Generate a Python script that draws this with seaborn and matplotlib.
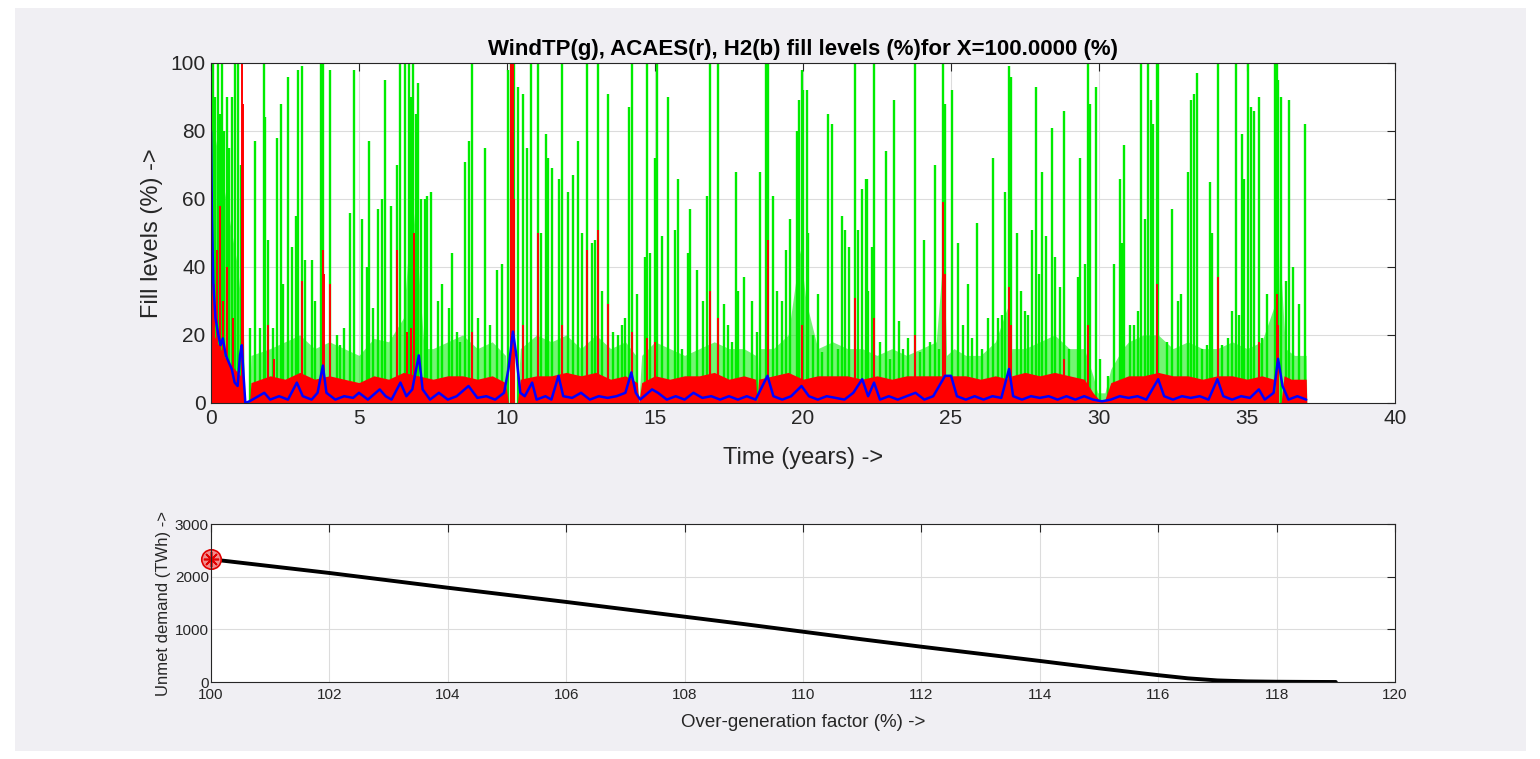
import numpy as np
import pandas as pd
import matplotlib
matplotlib.use("Agg")
import matplotlib.pyplot as plt
import seaborn as sns

# ---------------- data ----------------
# Green (WindTP) spike peaks: time (years), fill level (%)
green_spike_t = [0.02, 0.08, 0.14, 0.25, 0.30, 0.36, 0.45, 0.53, 0.62, 0.70, 0.81, 0.92, 1.00,
                 1.32, 1.49, 1.66, 1.80, 1.84, 1.94, 2.11, 2.22, 2.37, 2.44, 2.61, 2.75, 2.86, 2.95,
                 3.09, 3.18, 3.40, 3.51, 3.72, 3.79, 4.02, 4.25, 4.36, 4.50, 4.70, 4.84, 5.09, 5.26,
                 5.35, 5.48, 5.63, 5.77, 5.88, 6.07, 6.27, 6.39, 6.55, 6.69, 6.76, 6.84, 6.91, 6.98,
                 7.10, 7.23,
                 7.29, 7.43, 7.66, 7.82, 8.04, 8.15, 8.30, 8.41, 8.58, 8.73, 8.81, 9.03, 9.26, 9.43,
                 9.65, 9.84, 10.02, 10.14, 10.25, 10.36, 10.55, 10.67, 10.81, 11.04, 11.15, 11.32,
                 11.40, 11.51, 11.74, 11.85, 12.05, 12.24, 12.41, 12.52, 12.69, 12.86, 12.97, 13.09,
                 13.20, 13.40, 13.59, 13.74, 13.88, 13.99, 14.12, 14.23, 14.38, 14.66,
                 14.72, 14.83, 15.00, 15.06, 15.25, 15.45, 15.68, 15.79, 15.92, 16.11, 16.18, 16.41,
                 16.63, 16.75, 16.86, 17.14, 17.34, 17.48, 17.61, 17.73, 17.82, 18.02, 18.29, 18.43,
                 18.55, 18.74, 18.83, 19.00, 19.11, 19.30, 19.41, 19.56, 19.79, 19.88, 19.95, 20.01,
                 20.12, 20.18, 20.35, 20.49, 20.63, 20.83, 20.97, 21.17, 21.31, 21.42, 21.55, 21.74,
                 21.87, 21.98, 22.12,
                 22.15, 22.21, 22.34, 22.41, 22.60, 22.79, 22.94, 23.09, 23.24, 23.39, 23.54, 23.78,
                 23.95, 24.10, 24.29, 24.46, 24.59, 24.74, 24.80, 25.02, 25.25, 25.42, 25.56, 25.72,
                 25.87, 26.04, 26.24, 26.43, 26.60, 26.71, 26.82, 26.96, 27.02, 27.22, 27.37, 27.50,
                 27.61, 27.73, 27.86, 27.97, 28.09, 28.20, 28.40, 28.53, 28.68, 28.83, 28.99, 29.14,
                 29.28, 29.36, 29.53,
                 29.64, 29.70, 29.89, 30.03, 30.32, 30.49, 30.71, 30.79, 30.86, 31.05, 31.19, 31.33,
                 31.41, 31.55, 31.67, 31.76, 31.83, 31.95, 32.00, 32.29, 32.48, 32.66, 32.77, 33.00,
                 33.11, 33.20, 33.30, 33.47, 33.64, 33.75, 33.83, 34.01, 34.14, 34.35, 34.48, 34.62,
                 34.73, 34.82, 34.91, 35.02, 35.14, 35.25, 35.39, 35.50, 35.66, 35.93, 36.00, 36.06,
                 36.15, 36.32, 36.42, 36.57, 36.74, 36.96]
green_spike_v = [95, 100, 90, 100, 85, 100, 80, 90, 75, 90, 100, 100, 70,
                 22, 77, 22, 100, 84, 48, 22, 78, 88, 35, 96, 46, 55, 98,
                 99, 42, 42, 30, 100, 100, 98, 20, 17, 22, 56, 98, 54, 40,
                 77, 28, 57, 60, 95, 58, 70, 100, 100, 100, 90, 100, 85, 94,
                 60, 60,
                 61, 62, 30, 35, 28, 44, 21, 18, 71, 77, 100, 25, 75, 23,
                 39, 41, 98, 100, 100, 93, 91, 75, 100, 100, 50, 79,
                 72, 69, 66, 100, 62, 67, 77, 50, 100, 47, 48, 100,
                 33, 91, 21, 20, 23, 25, 87, 100, 32, 43,
                 100, 44, 72, 100, 49, 90, 51, 66, 16, 44, 57, 39,
                 30, 61, 100, 100, 29, 23, 18, 68, 33, 37, 30, 21,
                 68, 100, 100, 61, 33, 30, 45, 54, 80, 89, 98, 92,
                 92, 50, 20, 32, 15, 85, 82, 16, 55, 51, 46, 100,
                 51, 63, 66,
                 66, 33, 46, 100, 18, 74, 13, 89, 24, 16, 19, 100,
                 15, 48, 18, 70, 16, 100, 88, 92, 47, 23, 35, 19,
                 53, 16, 25, 72, 25, 26, 62, 99, 96, 50, 33, 27,
                 26, 51, 93, 38, 68, 49, 81, 43, 34, 86, 16, 7,
                 37, 72, 41,
                 100, 88, 93, 13, 8, 41, 66, 47, 76, 23, 23, 27,
                 100, 54, 100, 89, 82, 100, 100, 18, 57, 30, 32, 68,
                 89, 91, 97, 16, 17, 65, 50, 100, 17, 19, 27, 100,
                 26, 79, 66, 100, 87, 86, 90, 19, 32, 100, 100, 95,
                 90, 36, 89, 40, 29, 82]

# Green dense band (upper edge of the densely filled part)
green_band_t = [0.0, 0.3, 0.6, 0.9, 1.1, 1.15, 1.3, 1.35, 2.0, 2.5, 3.0, 3.5, 4.0, 4.5, 5.0, 5.5,
                6.0, 6.5, 6.8, 7.0, 7.2, 7.5, 8.0, 8.5, 9.0, 9.5, 9.95, 10.05, 10.35, 10.45, 11.0,
                11.5, 12.0, 12.5, 13.0, 13.5, 14.0, 14.35, 14.45, 14.55, 15.0, 15.5, 16.0, 16.5,
                17.0, 17.5, 18.0, 18.4, 18.45, 18.5, 19.0, 19.5, 19.9, 20.1, 20.5, 21.0, 21.5,
                22.0, 22.5, 23.0, 23.5, 24.0, 24.5, 24.75, 24.85, 25.1, 25.5, 26.0, 26.5, 26.9,
                26.98, 27.05, 27.5, 28.0, 28.5, 29.0, 29.5, 29.8, 29.95, 30.2, 30.4, 30.8, 31.0,
                31.5, 32.0, 32.5, 33.0, 33.5, 34.0, 34.5, 35.0, 35.5, 35.9, 36.0, 36.1, 36.3,
                36.6, 37.0, 37.02]
green_band_v = [85, 70, 55, 40, 20, 0, 0, 14, 16, 18, 20, 16, 18, 16, 14, 19,
                18, 25, 60, 40, 16, 16, 18, 20, 16, 18, 14, 0, 0, 16, 20,
                18, 20, 16, 20, 16, 18, 14, 0, 14, 18, 16, 14, 16,
                18, 16, 16, 14, 0, 16, 16, 20, 45, 30, 16, 18, 16,
                16, 14, 16, 14, 16, 18, 45, 14, 16, 14, 14, 18, 28,
                0, 16, 16, 18, 20, 16, 16, 8, 3, 3, 10, 16, 18,
                20, 20, 16, 18, 16, 16, 18, 16, 18, 28, 0, 45, 16,
                14, 14, 0]

# Red (ACAES) spikes and dense band
red_spike_t = [0.03, 0.10, 0.20, 0.30, 0.40, 0.55, 0.75, 1.04, 1.08, 1.94, 2.12, 3.09, 3.79, 3.83,
               4.02, 6.29, 6.62, 6.75, 6.87, 8.81, 10.14, 10.20, 10.25, 10.55, 11.04, 11.85,
               12.69, 13.09, 13.40, 14.23, 14.72, 15.00, 16.86, 17.14, 18.83, 19.95, 21.74,
               22.41, 23.78, 24.74, 24.80, 26.96, 27.02, 28.83, 29.64, 31.95, 34.01, 35.39,
               36.00, 36.06]
red_spike_v = [62, 35, 45, 58, 30, 40, 25, 100, 88, 23, 13, 36, 45, 38,
               35, 45, 21, 22, 50, 21, 100, 100, 60, 23, 50, 23,
               45, 51, 29, 21, 19, 18, 33, 25, 48, 23, 31,
               25, 20, 59, 38, 34, 23, 13, 23, 35, 37, 18,
               32, 23]
red_band_t = [0.0, 0.2, 0.5, 0.8, 1.1, 1.15, 1.3, 1.35, 2.0, 2.5, 3.0, 3.5, 4.0, 4.5, 5.0, 5.5,
              6.0, 6.5, 7.0, 7.5, 8.0, 8.5, 9.0, 9.5, 9.95, 10.05, 10.35, 10.45, 11.0, 11.5,
              12.0, 12.5, 13.0, 13.5, 14.0, 14.4, 14.45, 14.55, 15.0, 15.5, 16.0, 16.5, 17.0,
              17.5, 18.0, 18.4, 18.45, 18.5, 19.0, 19.5, 20.0, 20.5, 21.0, 21.5, 22.0, 22.5,
              23.0, 23.5, 24.0, 24.5, 25.0, 25.5, 26.0, 26.5, 26.95, 26.98, 27.05, 27.5, 28.0,
              28.5, 29.0, 29.5, 29.8, 30.0, 30.2, 30.4, 31.0, 31.5, 32.0, 32.5, 33.0, 33.5,
              34.0, 34.5, 35.0, 35.5, 35.9, 36.0, 36.15, 36.25, 36.5, 37.0, 37.02]
red_band_v = [22, 18, 13, 10, 7, 0, 0, 6, 8, 7, 9, 7, 8, 7, 6, 8,
              7, 9, 8, 7, 8, 8, 7, 8, 6, 0, 0, 7, 8, 8,
              9, 8, 9, 7, 8, 6, 0, 6, 8, 7, 8, 8, 9,
              7, 8, 7, 0, 7, 8, 9, 7, 8, 8, 8, 7, 8,
              7, 8, 8, 8, 8, 8, 7, 8, 7, 0, 8, 9, 8,
              9, 8, 7, 3, 1, 1, 6, 8, 8, 9, 8, 8, 7,
              8, 8, 7, 8, 7, 0, 0, 8, 7, 7, 0]

# Blue (H2) fill level
blue_t = [0.00, 0.03, 0.08, 0.15, 0.25, 0.32, 0.40, 0.50, 0.60, 0.70, 0.80, 0.90, 0.98, 1.04,
          1.10, 1.16, 1.3, 1.5, 1.8, 2.0, 2.3, 2.6, 2.9, 3.1, 3.4, 3.6, 3.78, 3.9, 4.2, 4.5,
          4.8, 5.0, 5.3, 5.7, 5.9, 6.1, 6.4, 6.6, 6.8, 7.02, 7.15, 7.4, 7.7, 8.0, 8.3, 8.7,
          9.0, 9.3, 9.6, 9.9, 10.05, 10.2, 10.3, 10.45, 10.6, 10.85, 11.0, 11.3, 11.5, 11.74,
          11.9, 12.2, 12.5, 12.8, 13.1, 13.4, 13.7, 14.0, 14.2, 14.35, 14.5, 14.9, 15.1, 15.4,
          15.7, 16.0, 16.3, 16.6, 16.9, 17.2, 17.5, 17.8, 18.1, 18.4, 18.8, 19.0, 19.3, 19.6,
          19.95, 20.2, 20.5, 20.8, 21.1, 21.4, 21.7, 22.0, 22.2, 22.4, 22.6, 22.9, 23.2, 23.5,
          23.8, 24.1, 24.4, 24.8, 25.0, 25.2, 25.5, 25.8, 26.1, 26.4, 26.7, 26.96, 27.1, 27.4,
          27.7, 28.0, 28.3, 28.6, 28.9, 29.2, 29.5, 29.8, 30.1, 30.4, 30.7, 31.0, 31.3, 31.6,
          31.8, 32.0, 32.2, 32.5, 32.8, 33.1, 33.4, 33.7, 34.0, 34.2, 34.5, 34.8, 35.1, 35.4,
          35.6, 35.9, 36.05, 36.2, 36.4, 36.7, 37.0]
blue_v = [80, 55, 35, 25, 20, 17, 19, 14, 12, 10, 6, 5, 14, 17,
          8, 0, 0.5, 1.5, 3, 1, 2, 1, 6, 2, 1, 3, 11, 3, 1, 2,
          1.5, 3, 1, 4, 2, 1, 6, 2, 4, 14, 4, 1, 3, 1, 2, 5,
          1.5, 2, 1, 3, 10, 21, 15, 3, 2, 6, 1, 2, 1, 8,
          2, 1.5, 3, 1, 2, 1.5, 2, 3, 9, 3, 1, 4, 3, 1,
          2, 1, 3, 1.5, 2, 1, 2, 1, 2, 1, 8, 2, 1, 2,
          5, 2, 1, 2, 1.5, 1, 3, 7, 2, 6, 1, 2, 1, 2,
          3, 1, 2, 8, 8, 2, 1, 2, 1, 2, 1.5, 10, 2, 1,
          2, 1.5, 2, 1, 2, 1, 2, 1, 0.5, 1, 2, 1.5, 2, 1,
          4, 7, 2, 1, 2, 1.5, 2, 1, 7, 2, 1, 2, 1.5, 4,
          1, 3, 13, 5, 1, 2, 1]

# Bottom panel: unmet demand vs over-generation factor
overgen = [100, 101, 102, 103, 104, 105, 106, 107, 108, 109, 110, 111, 112, 113, 114, 115,
           116, 116.5, 117, 117.5, 118, 118.5, 119]
unmet = [2330, 2200, 2070, 1930, 1790, 1655, 1520, 1380, 1240, 1100, 955, 810, 670, 535, 400,
         260, 130, 70, 30, 12, 5, 2, 0]

top_xticks = [0, 5, 10, 15, 20, 25, 30, 35, 40]
top_yticks = [0, 20, 40, 60, 80, 100]
bot_xticks = [100, 102, 104, 106, 108, 110, 112, 114, 116, 118, 120]
bot_yticks = [0, 1000, 2000, 3000]

# ---------------- styling ----------------
sns.set_theme(style="white")
plt.rcParams['font.family'] = ['Liberation Sans', 'DejaVu Sans']

GREEN = "#00ec00"
RED = "#ff0000"
BLUE = "#0000ff"
TXT = "#262626"
BG = "#f0eff3"

W, H = 1540, 759
fig = plt.figure(figsize=(W / 100, H / 100), dpi=100, facecolor="white")
# grey figure-window area inside a white page margin
fig.patches.append(matplotlib.patches.Rectangle((15 / W, 8 / H), (1526 - 15) / W, (751 - 8) / H,
                                                transform=fig.transFigure, facecolor=BG,
                                                edgecolor="none", zorder=-10))

ax1 = fig.add_axes([211 / W, 1 - 403 / H, (1395 - 211) / W, (403 - 63) / H])
ax2 = fig.add_axes([211 / W, 1 - 682 / H, (1395 - 211) / W, (682 - 524) / H])

# ---- top panel ----
ax1.fill_between(green_band_t, 0, green_band_v, color=GREEN, lw=0, alpha=0.55, zorder=2)
ax1.vlines(green_spike_t, 0, green_spike_v, color=GREEN, lw=1.7, zorder=2)
ax1.fill_between(red_band_t, 0, red_band_v, color=RED, lw=0, zorder=3)
ax1.vlines(red_spike_t, 0, red_spike_v, color=RED, lw=1.4, zorder=3)
blue_df = pd.DataFrame({"t": blue_t, "v": blue_v})
sns.lineplot(data=blue_df, x="t", y="v", color=BLUE, lw=1.8, ax=ax1, zorder=5)

ax1.set_xlim(0, 40)
ax1.set_ylim(0, 100)
ax1.set_xticks(top_xticks)
ax1.set_yticks(top_yticks)
ax1.set_title("WindTP(g), ACAES(r), H2(b) fill levels (%)for X=100.0000 (%)",
              fontsize=16, fontweight="bold", color="black", pad=6)
ax1.set_xlabel("Time (years) ->", fontsize=17, color=TXT, labelpad=14)
ax1.set_ylabel("Fill levels (%) ->", fontsize=17, color=TXT, labelpad=5)

# ---- bottom panel ----
bot_df = pd.DataFrame({"x": overgen, "y": unmet})
sns.lineplot(data=bot_df, x="x", y="y", color="black", lw=2.8, ax=ax2, zorder=3)
ax2.plot(overgen[0], unmet[0], marker="o", ms=14, mfc="#f28c8c", mec="#e00000", mew=1.2,
         zorder=5, clip_on=False)
ax2.plot(overgen[0], unmet[0], marker=(8, 2, 0), ms=11, mec="#e00000", mew=1.2,
         zorder=6, clip_on=False)
ax2.set_xlim(100, 120)
ax2.set_ylim(0, 3000)
ax2.set_xticks(bot_xticks)
ax2.set_yticks(bot_yticks)
ax2.set_xlabel("Over-generation factor (%) ->", fontsize=13.5, color=TXT, labelpad=9)
ax2.set_ylabel("Unmet demand (TWh) ->", fontsize=12, color=TXT, labelpad=3)

for ax, fs in ((ax1, 15), (ax2, 11)):
    ax.set_facecolor("white")
    ax.grid(True, color="#dcdcdc", lw=0.8)
    ax.set_axisbelow(True)
    ax.tick_params(direction="in", length=6, width=0.8, top=True, right=True,
                   labelsize=fs, colors=TXT, pad=4)
    for s in ax.spines.values():
        s.set_color(TXT)
        s.set_linewidth(0.8)
        s.set_zorder(10)
ax2.tick_params(axis="y", pad=1.5)

fig.savefig("out.png", dpi=100, facecolor="white")
